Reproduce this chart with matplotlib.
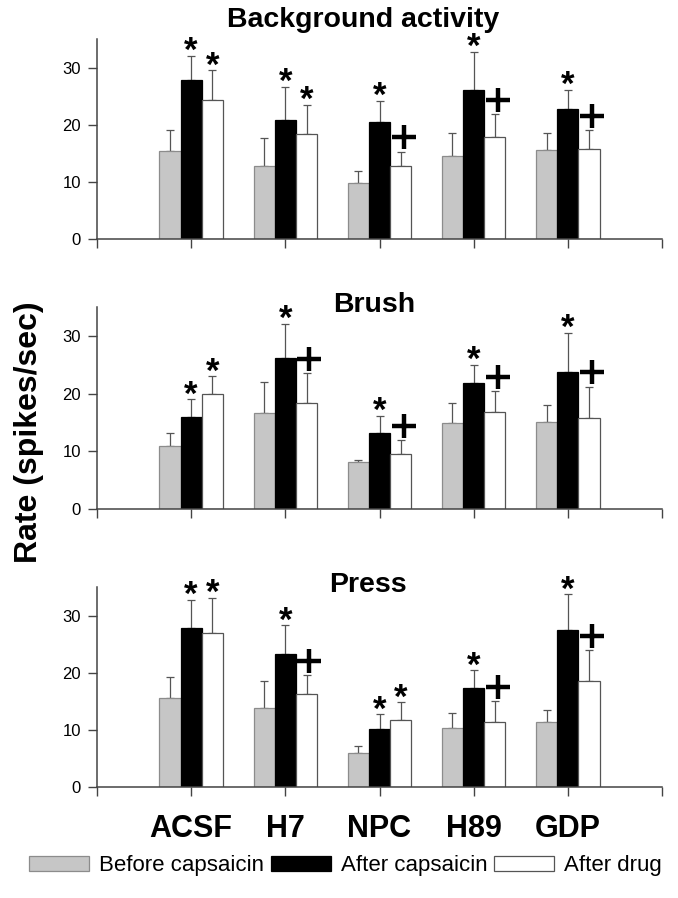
import numpy as np
import matplotlib.pyplot as plt

plt.rcParams['font.family'] = ['Liberation Sans', 'DejaVu Sans']

drugs = ['ACSF', 'H7', 'NPC', 'H89', 'GDP']
panels = ['Background activity', 'Brush', 'Press']
series = ['Before capsaicin', 'After capsaicin', 'After drug']

# means and upper error (top of error bar) per panel, per series
before = [[15.4, 12.8, 9.8, 14.6, 15.5],
          [11.0, 16.6, 8.2, 14.9, 15.0],
          [15.6, 13.9, 5.9, 10.3, 11.3]]
before_err = [[19.0, 17.6, 11.9, 18.5, 18.5],
              [13.1, 22.0, 8.5, 18.3, 18.0],
              [19.2, 18.6, 7.1, 12.9, 13.5]]
after_cap = [[27.8, 20.9, 20.4, 26.0, 22.7],
             [16.0, 26.2, 13.2, 21.9, 23.7],
             [27.9, 23.2, 10.1, 17.4, 27.5]]
after_cap_err = [[32.0, 26.6, 24.2, 32.7, 26.1],
                 [19.0, 32.1, 16.1, 25.0, 30.5],
                 [32.8, 28.3, 12.7, 20.4, 33.7]]
after_drug = [[24.4, 18.4, 12.7, 17.8, 15.8],
              [19.9, 18.4, 9.6, 16.8, 15.7],
              [27.0, 16.2, 11.8, 11.3, 18.5]]
after_drug_err = [[29.5, 23.5, 15.3, 21.9, 19.0],
                  [23.0, 23.5, 11.9, 20.4, 21.2],
                  [33.1, 19.6, 14.8, 15.0, 24.0]]

# significance marks above "after capsaicin" and "after drug" bars
cap_marks = [['*', '*', '*', '*', '*'],
             ['*', '*', '*', '*', '*'],
             ['*', '*', '*', '*', '*']]
drug_marks = [['*', '*', '+', '+', '+'],
              ['*', '+', '+', '+', '+'],
              ['*', '+', '*', '+', '+']]

fig = plt.figure(figsize=(6.78, 8.98), dpi=100)

axes_boxes = [[0.1431, 0.7339, 0.8333, 0.2227],
              [0.1431, 0.4332, 0.8333, 0.2249],
              [0.1431, 0.1236, 0.8333, 0.2227]]
title_pos = [(0.535, 0.978), (0.552, 0.660), (0.543, 0.348)]

x = np.arange(1, len(drugs) + 1)
w = 0.225
bar_colors = ['#c6c6c6', 'black', 'white']
edge_colors = ['#8c8c8c', 'black', '#555555']
lines_col = '#444444'

handles = []
for p in range(3):
    ax = fig.add_axes(axes_boxes[p])
    vals = [before[p], after_cap[p], after_drug[p]]
    tops = [before_err[p], after_cap_err[p], after_drug_err[p]]
    for s in range(3):
        xs = x + (s - 1) * w
        v = np.array(vals[s])
        up = np.array(tops[s]) - v
        ax.errorbar(xs, v, yerr=[np.zeros_like(up), up], fmt='none',
                    ecolor='#555555', elinewidth=0.9, capsize=3.2,
                    capthick=0.9, zorder=1)
        b = ax.bar(xs, v, width=w, color=bar_colors[s],
                   edgecolor=edge_colors[s], linewidth=0.9, zorder=2,
                   label=series[s])
        if p == 0:
            handles.append(b)
    for i in range(len(drugs)):
        for s, marks in ((1, cap_marks), (2, drug_marks)):
            m = marks[p][i]
            top = [after_cap_err, after_drug_err][s - 1][p][i]
            xm = x[i] + (s - 1) * w
            if m == '*':
                ax.text(xm, top - 0.9, '*', ha='center', va='baseline',
                        fontsize=25, fontweight='bold')
            else:
                ax.plot(xm + 0.03, top + 2.5, marker='+', markersize=17,
                        mew=3.2, color='black')

    ax.set_xlim(0, 6)
    ax.set_ylim(0, 35)
    ax.set_yticks([0, 10, 20, 30])
    ax.set_xticks(np.arange(0, 7))
    for sp in ['top', 'right']:
        ax.spines[sp].set_visible(False)
    for sp in ['left', 'bottom']:
        ax.spines[sp].set_color(lines_col)
        ax.spines[sp].set_linewidth(1.1)
    ax.tick_params(axis='both', direction='out', length=6.5, width=1.0,
                   color=lines_col, labelsize=12)
    ax.tick_params(axis='y', pad=5)
    if p == 2:
        ax.set_xticklabels([''] + drugs + [''], fontsize=22,
                           fontweight='bold')
        ax.tick_params(axis='x', pad=13)
    else:
        ax.set_xticklabels([])
    fig.text(title_pos[p][0], title_pos[p][1], panels[p], ha='center',
             va='center', fontsize=20.5, fontweight='bold')

fig.text(0.043, 0.519, 'Rate (spikes/sec)', rotation=90, ha='center',
         va='center', fontsize=23, fontweight='bold')

fig.legend(handles=handles, labels=series, loc='center',
           bbox_to_anchor=(0.51, 0.036), ncol=3, frameon=False,
           fontsize=16, handlelength=2.7, handleheight=0.7,
           handletextpad=0.45, columnspacing=0.3)

fig.savefig('out.png', dpi=100)
